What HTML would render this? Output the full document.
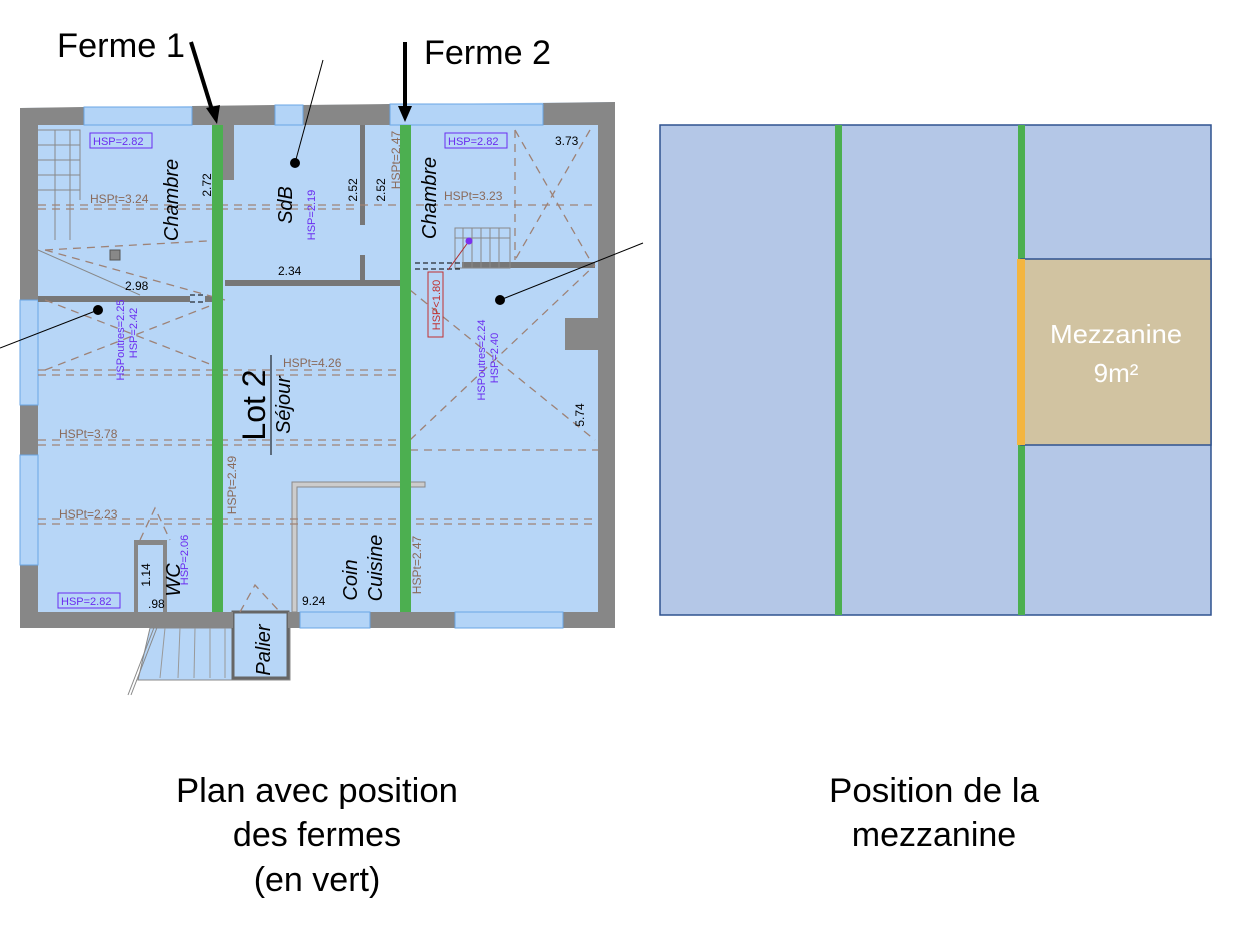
<!DOCTYPE html>
<html><head><meta charset="utf-8"><style>
html,body{margin:0;padding:0;background:#fff;width:1234px;height:938px;overflow:hidden}
svg{display:block}
.cap{font-family:"Liberation Sans",sans-serif;font-size:34px;fill:#000}
</style></head><body>
<svg width="1234" height="938" viewBox="0 0 1234 938" xmlns="http://www.w3.org/2000/svg" font-family="Liberation Sans, sans-serif">
<polygon points="20,108 615,102 615,628 20,628" fill="#b7d6f7"/>
<polygon points="150,628 290,628 290,680 138,680" fill="#b7d6f7" stroke="#888" stroke-width="1"/>
<g stroke="#999" stroke-width="1">
<line x1="165" y1="628" x2="160" y2="678"/><line x1="180" y1="628" x2="178" y2="678"/><line x1="195" y1="628" x2="194" y2="678"/><line x1="210" y1="628" x2="210" y2="678"/><line x1="225" y1="628" x2="225" y2="678"/>
</g>
<rect x="233" y="612" width="55" height="66" fill="#b7d6f7" stroke="#666" stroke-width="3"/>
<line x1="155" y1="625" x2="128" y2="695" stroke="#888"/><line x1="158" y1="625" x2="131" y2="695" stroke="#888"/>
<g fill="#878787">
<polygon points="20,108 84,107 84,125 38,125 38,300 20,300"/>
<polygon points="192,106 275,105 275,125 234,125 234,180 222,180 222,125 192,125"/>
<polygon points="303,105 390,104 390,125 303,125"/>
<polygon points="543,103 615,102 615,628 563,628 563,612 598,612 598,350 565,350 565,318 598,318 598,125 543,125"/>
<rect x="20" y="405" width="18" height="50"/>
<rect x="20" y="565" width="18" height="63"/>
<rect x="38" y="612" width="195" height="16"/>
<rect x="288" y="612" width="12" height="16"/>
<rect x="370" y="612" width="85" height="16"/>
<rect x="134" y="540" width="33" height="72"/>
</g>
<rect x="138" y="545" width="25" height="67" fill="#b7d6f7"/>
<g fill="#b3d4f7" stroke="#6aa6e6" stroke-width="1">
<rect x="84" y="107" width="108" height="18"/><rect x="275" y="105" width="28" height="20"/><rect x="390" y="104" width="153" height="21"/>
<rect x="20" y="300" width="18" height="105"/><rect x="20" y="455" width="18" height="110"/>
<rect x="300" y="612" width="70" height="16"/><rect x="455" y="612" width="108" height="16"/>
</g>
<g fill="#777">
<rect x="38" y="296" width="152" height="6"/><rect x="205" y="296" width="8" height="6"/>
<rect x="360" y="125" width="5" height="100"/><rect x="360" y="255" width="5" height="25"/>
<rect x="225" y="280" width="175" height="6"/><rect x="462" y="262" width="133" height="6"/>
</g>
<path d="M292,482 H425 V487 H297 V612 H292 Z" fill="#ccc" stroke="#888"/>
<g stroke="#888" fill="none" stroke-width="1">
<path d="M38,130 H80 V200 M38,145 H80 M38,160 H80 M38,175 H80 M38,190 H80 M55,130 V240 M70,130 V240"/>
<line x1="38" y1="250" x2="140" y2="295"/>
<path d="M455,228 H510 V268 H455 Z M455,238 H510 M463,228 V268 M472,228 V268 M481,228 V268 M490,228 V268 M499,228 V268"/>
</g>
<rect x="110" y="250" width="10" height="10" fill="#888" stroke="#555"/>
<g stroke="#9e8276" stroke-width="1.3" stroke-dasharray="8,6" fill="none">
<line x1="38" y1="205" x2="598" y2="205"/><line x1="38" y1="209" x2="360" y2="209"/>
<line x1="38" y1="370" x2="400" y2="370"/><line x1="38" y1="375" x2="400" y2="375"/>
<line x1="38" y1="440" x2="400" y2="440"/><line x1="38" y1="445" x2="400" y2="445"/>
<line x1="410" y1="450" x2="598" y2="450"/>
<line x1="38" y1="519" x2="598" y2="519"/><line x1="38" y1="524" x2="598" y2="524"/>
<line x1="45" y1="250" x2="225" y2="240"/><line x1="45" y1="250" x2="225" y2="300"/>
<line x1="45" y1="300" x2="225" y2="370"/><line x1="45" y1="370" x2="225" y2="300"/>
<line x1="410" y1="440" x2="595" y2="265"/><line x1="410" y1="290" x2="595" y2="440"/>
<line x1="515" y1="130" x2="590" y2="260"/><line x1="590" y1="130" x2="515" y2="260"/><line x1="515" y1="130" x2="515" y2="260"/>
<path d="M140,540 L155,508 L170,540"/><path d="M240,612 L255,585 L280,612"/>
</g>
<g stroke="#000" stroke-dasharray="5,3" fill="none"><line x1="190" y1="295" x2="205" y2="295"/><line x1="190" y1="302" x2="205" y2="302"/><line x1="415" y1="263" x2="460" y2="263"/><line x1="415" y1="269" x2="460" y2="269"/></g>
<rect x="212" y="125" width="11" height="487" fill="#4caf50"/>
<rect x="400" y="125" width="11" height="487" fill="#4caf50"/>
<g stroke="#000" stroke-width="1"><line x1="295" y1="163" x2="323" y2="60"/><line x1="98" y1="310" x2="0" y2="348"/><line x1="500" y1="300" x2="643" y2="243"/></g>
<circle cx="295" cy="163" r="5"/><circle cx="98" cy="310" r="5"/><circle cx="500" cy="300" r="5"/>
<line x1="469" y1="241" x2="448" y2="270" stroke="#b03030"/><circle cx="469" cy="241" r="3.5" fill="#7b2ff0"/>
<line x1="191" y1="42" x2="212" y2="110" stroke="#000" stroke-width="4"/>
<polygon points="206,108 220,105 217,124" fill="#000"/>
<line x1="405" y1="42" x2="405" y2="108" stroke="#000" stroke-width="4"/>
<polygon points="398,106 412,106 405,122" fill="#000"/>
<text x="57" y="57" font-size="34" textLength="128" lengthAdjust="spacingAndGlyphs">Ferme 1</text>
<text x="424" y="64" font-size="34" textLength="127" lengthAdjust="spacingAndGlyphs">Ferme 2</text>
<g font-size="11" fill="#6a2cf0">
<rect x="90" y="133" width="62" height="15" fill="none" stroke="#6a2cf0"/><text x="93" y="145">HSP=2.82</text>
<rect x="445" y="133" width="62" height="15" fill="none" stroke="#6a2cf0"/><text x="448" y="145">HSP=2.82</text>
<rect x="58" y="593" width="62" height="15" fill="none" stroke="#6a2cf0"/><text x="61" y="605">HSP=2.82</text>
<text transform="translate(315,215) rotate(-90)" text-anchor="middle">HSP=2.19</text>
<text transform="translate(124,340) rotate(-90)" text-anchor="middle">HSPoutres=2.25</text>
<text transform="translate(137,333) rotate(-90)" text-anchor="middle">HSP=2.42</text>
<text transform="translate(485,360) rotate(-90)" text-anchor="middle">HSPoutres=2.24</text>
<text transform="translate(498,358) rotate(-90)" text-anchor="middle">HSP=2.40</text>
<text transform="translate(188,560) rotate(-90)" text-anchor="middle">HSP=2.06</text>
</g>
<rect x="428" y="272" width="15" height="65" fill="none" stroke="#c03030"/>
<text transform="translate(440,305) rotate(-90)" text-anchor="middle" font-size="11" fill="#c03030">HSP&lt;1.80</text>
<g font-size="12" fill="#8a6a5a">
<text x="90" y="203">HSPt=3.24</text><text x="444" y="200">HSPt=3.23</text><text x="283" y="367">HSPt=4.26</text>
<text x="59" y="438">HSPt=3.78</text><text x="59" y="518">HSPt=2.23</text>
<text transform="translate(236,485) rotate(-90)" text-anchor="middle">HSPt=2.49</text>
<text transform="translate(421,565) rotate(-90)" text-anchor="middle">HSPt=2.47</text>
<text transform="translate(400,160) rotate(-90)" text-anchor="middle">HSPt=2.47</text>
</g>
<g font-size="12" fill="#000">
<text transform="translate(211,185) rotate(-90)" text-anchor="middle">2.72</text>
<text transform="translate(357,190) rotate(-90)" text-anchor="middle">2.52</text>
<text transform="translate(385,190) rotate(-90)" text-anchor="middle">2.52</text>
<text x="278" y="275">2.34</text><text x="125" y="290">2.98</text><text x="555" y="145">3.73</text>
<text transform="translate(584,415) rotate(-90)" text-anchor="middle">5.74</text>
<text x="302" y="605">9.24</text><text x="148" y="608">.98</text>
<text transform="translate(150,575) rotate(-90)" text-anchor="middle">1.14</text>
</g>
<g font-style="italic" fill="#000">
<text transform="translate(178,200) rotate(-90)" text-anchor="middle" font-size="20">Chambre</text>
<text transform="translate(436,198) rotate(-90)" text-anchor="middle" font-size="20">Chambre</text>
<text transform="translate(292,205) rotate(-90)" text-anchor="middle" font-size="20">SdB</text>
<text transform="translate(290,405) rotate(-90)" text-anchor="middle" font-size="20">Séjour</text>
<text transform="translate(357,580) rotate(-90)" text-anchor="middle" font-size="20">Coin</text>
<text transform="translate(382,568) rotate(-90)" text-anchor="middle" font-size="20">Cuisine</text>
<text transform="translate(180,580) rotate(-90)" text-anchor="middle" font-size="20">WC</text>
<text transform="translate(270,650) rotate(-90)" text-anchor="middle" font-size="20">Palier</text>
</g>
<text transform="translate(265,405) rotate(-90)" text-anchor="middle" font-size="32">Lot 2</text>
<line x1="271" y1="355" x2="271" y2="455" stroke="#000"/>
<rect x="660" y="125" width="551" height="490" fill="#b4c7e7" stroke="#2f528f" stroke-width="1.5"/>
<rect x="835" y="125" width="7" height="490" fill="#4caf50"/>
<rect x="1018" y="125" width="7" height="490" fill="#4caf50"/>
<rect x="1021" y="259" width="190" height="186" fill="#d1c3a1" stroke="#2f528f" stroke-width="1.5"/>
<rect x="1017" y="259" width="8" height="186" fill="#f4b53f"/>
<text x="1116" y="343" font-size="26" fill="#fff" text-anchor="middle" textLength="132" lengthAdjust="spacingAndGlyphs">Mezzanine</text>
<text x="1116" y="382" font-size="26" fill="#fff" text-anchor="middle">9m²</text>
<g class="cap" text-anchor="middle">
<text x="317" y="802" textLength="282" lengthAdjust="spacingAndGlyphs">Plan avec position</text>
<text x="317" y="846">des fermes</text>
<text x="317" y="891">(en vert)</text>
<text x="934" y="802" textLength="210" lengthAdjust="spacingAndGlyphs">Position de la</text>
<text x="934" y="846">mezzanine</text>
</g>
</svg>
</body></html>
